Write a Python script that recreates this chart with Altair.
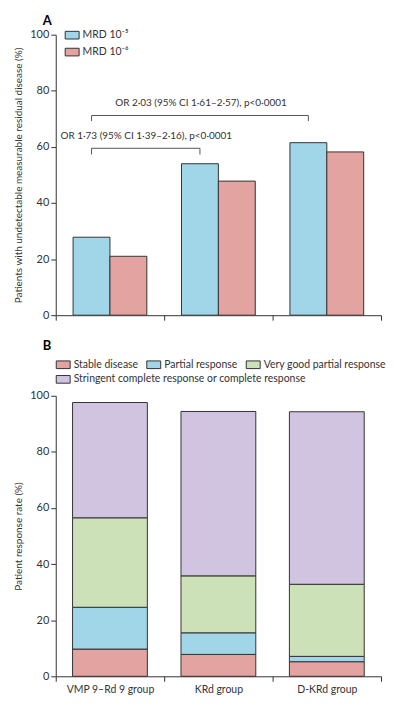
import altair as alt
import pandas as pd

# ---------------- data ----------------
groups = ["VMP 9–Rd 9  group", "KRd group", "D-KRd group"]

mrd_series = ["MRD 10⁻⁵", "MRD 10⁻⁶"]
mrd_1e5 = [27.8, 54.0, 61.5]
mrd_1e6 = [21.0, 47.8, 58.2]

resp_cats = ["Stable disease", "Partial response", "Very good partial response",
             "Stringent complete response or complete response"]
stable = [9.7, 7.8, 5.2]
partial = [14.9, 7.7, 1.9]
vgpr = [31.9, 20.3, 25.7]
cr = [41.1, 58.6, 61.5]

or_labels = ["OR 1·73 (95% CI 1·39–2·16), p<0·0001",
             "OR 2·03 (95% CI 1·61–2·57), p<0·0001"]
or_from = [groups[0], groups[0]]
or_to = [groups[1], groups[2]]
or_level = [59.5, 71.2]
or_drop = [2.2, 2.0]
or_text_y = [63.7, 75.8]

# ---------------- styles ----------------
FONT = "Lato"
BLUE = "#a0d6e7"
PINK = "#e3a3a1"
GREEN = "#cde1b8"
PURPLE = "#d1c4e1"
DARK = "#333333"
W = 327
H = 282
RECT = "M-1,-0.55H1V0.55H-1Z"

legend_common = dict(title=None, symbolType=RECT, symbolSize=196,
                     symbolStrokeColor=DARK, symbolStrokeWidth=1, symbolOpacity=1,
                     labelFontSize=10.5, labelColor=DARK, labelOffset=3, labelLimit=400)

# ---------------- panel A ----------------
dfA = pd.DataFrame({
    "group": groups * 2,
    "series": [mrd_series[0]] * 3 + [mrd_series[1]] * 3,
    "value": mrd_1e5 + mrd_1e6,
})

br_rows = []
for i in range(len(or_labels)):
    pts = [(or_from[i], or_level[i] - or_drop[i]), (or_from[i], or_level[i]),
           (or_to[i], or_level[i]), (or_to[i], or_level[i] - or_drop[i])]
    for k, (g, v) in enumerate(pts):
        br_rows.append({"bracket": i, "group": g, "series": mrd_series[0], "y": v, "k": k})
dfBr = pd.DataFrame(br_rows)

dfTxt = pd.DataFrame({"label": or_labels, "group": or_to, "y": or_text_y})

x_scale = alt.Scale(domain=groups, paddingInner=0, paddingOuter=0)
xoff_scale = alt.Scale(domain=mrd_series, paddingInner=0, paddingOuter=0.47)
y_scale = alt.Scale(domain=[0, 100])

xA = alt.X("group:N", scale=x_scale, sort=groups,
           axis=alt.Axis(title=None, labels=False, tickBand="extent", tickSize=5))
yA = alt.Y("value:Q", scale=y_scale,
           axis=alt.Axis(title="Patients with undetectable measurable residual disease (%)",
                         values=[0, 20, 40, 60, 80, 100], tickSize=5, grid=False))

barsA = alt.Chart(dfA).mark_bar(stroke=DARK, strokeWidth=1).encode(
    x=xA,
    xOffset=alt.XOffset("series:N", scale=xoff_scale, sort=mrd_series),
    y=yA,
    color=alt.Color("series:N", scale=alt.Scale(domain=mrd_series, range=[BLUE, PINK]),
                    legend=alt.Legend(orient="none", legendX=9, legendY=-7, rowPadding=3,
                                      **legend_common)),
)

bracket = alt.Chart(dfBr).mark_line(color="#555555", strokeWidth=1).encode(
    x=alt.X("group:N", scale=x_scale, sort=groups),
    xOffset=alt.XOffset("series:N", scale=xoff_scale, sort=mrd_series),
    y=alt.Y("y:Q", scale=y_scale),
    detail="bracket:N",
    order="k:Q",
)

txt1 = alt.Chart(dfTxt.iloc[[0]]).mark_text(fontSize=10, color=DARK, align="center", dx=-18, font=FONT).encode(
    x=alt.X("group:N", scale=x_scale, sort=groups, bandPosition=0),
    y=alt.Y("y:Q", scale=y_scale),
    text="label:N",
)
txt2 = alt.Chart(dfTxt.iloc[[1]]).mark_text(fontSize=10, color=DARK, align="center", dx=-72, font=FONT).encode(
    x=alt.X("group:N", scale=x_scale, sort=groups, bandPosition=0),
    y=alt.Y("y:Q", scale=y_scale),
    text="label:N",
)

panelA = alt.layer(barsA, bracket, txt1, txt2).properties(
    width=W, height=H,
    title=alt.TitleParams("A", anchor="start", frame="group", fontSize=13, fontWeight="bold",
                          dx=-13, offset=0, font=FONT),
)

# ---------------- panel B ----------------
rowsB = []
for ci, (cat, vals) in enumerate(zip(resp_cats, [stable, partial, vgpr, cr])):
    for g, v in zip(groups, vals):
        rowsB.append({"group": g, "category": cat, "value": v, "idx": ci})
dfB = pd.DataFrame(rowsB)

xB = alt.X("group:N", scale=x_scale, sort=groups,
           axis=alt.Axis(title=None, labelAngle=0, tickBand="extent", tickSize=5,
                         labelFontSize=10.5, labelPadding=3))

barsB = alt.Chart(dfB).mark_bar(stroke=DARK, strokeWidth=1, width=alt.RelativeBandSize(0.69)).encode(
    x=xB,
    y=alt.Y("value:Q", scale=y_scale, stack="zero",
            axis=alt.Axis(title="Patient response rate (%)", values=[0, 20, 40, 60, 80, 100],
                          tickSize=5, grid=False)),
    color=alt.Color("category:N", sort=resp_cats,
                    scale=alt.Scale(domain=resp_cats, range=[PINK, BLUE, GREEN, PURPLE]),
                    legend=alt.Legend(orient="none", legendX=0, legendY=-39,
                                      direction="horizontal", values=resp_cats[:3],
                                      columnPadding=6, **legend_common)),
    order=alt.Order("idx:Q", sort="ascending"),
)

# invisible layer only to carry the second legend row
legend_row2 = alt.Chart(dfB[dfB["category"] == resp_cats[3]]).mark_bar(opacity=0, width=alt.RelativeBandSize(0.69)).encode(
    x=xB,
    y=alt.Y("value:Q", scale=y_scale, stack=None),
    color=alt.Color("category:N",
                    scale=alt.Scale(domain=[resp_cats[3]], range=[PURPLE]),
                    legend=alt.Legend(orient="none", legendX=0, legendY=-24, **legend_common)),
)

panelB = alt.layer(legend_row2, barsB).resolve_scale(color="independent").properties(
    width=W, height=H,
    title=alt.TitleParams("B", anchor="start", frame="group", fontSize=13, fontWeight="bold",
                          dx=-13, offset=4, font=FONT),
)

chart = alt.vconcat(panelA, panelB, spacing=19).resolve_scale(
    color="independent"
).properties(
    padding={"left": 5, "top": 5, "right": 0, "bottom": 0}
).configure_axis(
    labelFont=FONT, titleFont=FONT, labelFontSize=11, titleFontSize=10,
    labelColor=DARK, titleColor=DARK, domainColor=DARK, tickColor=DARK,
    titleFontWeight="normal", titlePadding=6,
).configure_legend(labelFont=FONT).configure_view(stroke=None).configure_text(font=FONT)

chart.save("out.html", embed_options={"renderer": "svg", "actions": False})
